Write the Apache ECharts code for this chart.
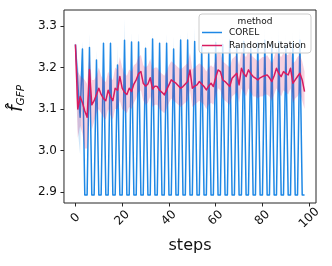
<!DOCTYPE html>
<html><head><meta charset="utf-8">
<script src="https://cdn.jsdelivr.net/npm/echarts@6/dist/echarts.min.js"></script>
<style>html,body{margin:0;padding:0;background:#fff}#c{width:332px;height:266px}</style>
</head><body><div id="c"></div>
<script>
const steps = [0,1,2,3,4,5,6,7,8,9,10,11,12,13,14,15,16,17,18,19,20,21,22,23,24,25,26,27,28,29,30,31,32,33,34,35,36,37,38,39,40,41,42,43,44,45,46,47,48,49,50,51,52,53,54,55,56,57,58,59,60,61,62,63,64,65,66,67,68,69,70,71,72,73,74,75,76,77,78,79,80,81,82,83,84,85,86,87,88,89,90,91,92,93,94,95,96,97,98];
const xTicks = [0,20,40,60,80,100];
const yTicks = [2.9,3.0,3.1,3.2,3.3];

const corel = [3.255,3.16,3.08,
3.244,2.893,2.893, 3.248,2.893,2.893, 3.218,2.893,2.893, 3.258,2.893,2.893,
3.258,2.893,2.893, 3.206,2.893,2.893, 3.265,2.893,2.893, 3.261,2.893,2.893,
3.261,2.893,2.893, 3.246,2.893,2.893, 3.268,2.893,2.893, 3.258,2.893,2.893,
3.258,2.893,2.893, 3.244,2.893,2.893, 3.266,2.893,2.893, 3.266,2.893,2.893,
3.262,2.893,2.893, 3.25,2.893,2.893, 3.236,2.893,2.893, 3.26,2.893,2.893,
3.255,2.893,2.893, 3.265,2.893,2.893, 3.25,2.893,2.893, 3.262,2.893,2.893,
3.245,2.893,2.893, 3.258,2.893,2.893, 3.265,2.893,2.893, 3.255,2.893,2.893,
3.262,2.893,2.893, 3.25,2.893,2.893, 3.26,2.893,2.893, 3.265,2.893,2.893];
const corelHi = [3.258,3.21,3.16,
3.262,2.893,2.893, 3.282,2.893,2.893, 3.242,2.893,2.893, 3.262,2.893,2.893,
3.262,2.893,2.893, 3.252,2.893,2.893, 3.318,2.893,2.893, 3.284,2.893,2.893,
3.284,2.893,2.893, 3.264,2.893,2.893, 3.285,2.893,2.893, 3.27,2.893,2.893,
3.282,2.893,2.893, 3.274,2.893,2.893, 3.282,2.893,2.893, 3.29,2.893,2.893,
3.298,2.893,2.893, 3.265,2.893,2.893, 3.26,2.893,2.893, 3.285,2.893,2.893,
3.28,2.893,2.893, 3.29,2.893,2.893, 3.27,2.893,2.893, 3.29,2.893,2.893,
3.28,2.893,2.893, 3.295,2.893,2.893, 3.3,2.893,2.893, 3.28,2.893,2.893,
3.3,2.893,2.893, 3.285,2.893,2.893, 3.29,2.893,2.893, 3.3,2.893,2.893];
const corelLo = [3.25,3.05,2.99,
3.225,2.893,2.893, 3.22,2.893,2.893, 3.19,2.893,2.893, 3.24,2.893,2.893,
3.24,2.893,2.893, 3.17,2.893,2.893, 3.23,2.893,2.893, 3.24,2.893,2.893,
3.24,2.893,2.893, 3.225,2.893,2.893, 3.25,2.893,2.893, 3.24,2.893,2.893,
3.235,2.893,2.893, 3.215,2.893,2.893, 3.25,2.893,2.893, 3.245,2.893,2.893,
3.23,2.893,2.893, 3.23,2.893,2.893, 3.21,2.893,2.893, 3.235,2.893,2.893,
3.23,2.893,2.893, 3.24,2.893,2.893, 3.23,2.893,2.893, 3.235,2.893,2.893,
3.215,2.893,2.893, 3.225,2.893,2.893, 3.235,2.893,2.893, 3.23,2.893,2.893,
3.235,2.893,2.893, 3.22,2.893,2.893, 3.235,2.893,2.893, 3.24,2.893,2.893];

const randMut = [3.255,3.10,3.13,3.115,3.095,3.08,3.195,3.11,3.12,3.135,
3.15,3.135,3.125,3.12,3.145,3.13,3.12,3.15,3.145,3.178,
3.15,3.14,3.135,3.15,3.142,3.16,3.17,3.185,3.19,3.162,
3.155,3.16,3.175,3.148,3.155,3.154,3.145,3.14,3.134,3.146,
3.158,3.17,3.166,3.162,3.156,3.15,3.154,3.16,3.166,3.194,
3.15,3.155,3.158,3.166,3.16,3.154,3.146,3.155,3.162,3.154,
3.175,3.194,3.19,3.17,3.166,3.16,3.154,3.174,3.18,3.186,
3.158,3.198,3.185,3.178,3.194,3.185,3.178,3.174,3.17,3.175,
3.178,3.18,3.182,3.175,3.166,3.18,3.198,3.185,3.178,3.19,
3.185,3.182,3.198,3.162,3.17,3.178,3.186,3.17,3.142];
const randMutLo = [3.2,3.03,3.06,3.04,3.005,3.005,3.10,3.05,3.07,3.09,
3.10,3.09,3.08,3.075,3.10,3.085,3.075,3.10,3.10,3.12,
3.10,3.095,3.09,3.105,3.10,3.115,3.125,3.14,3.145,3.12,
3.11,3.115,3.13,3.105,3.11,3.11,3.10,3.095,3.09,3.10,
3.115,3.125,3.12,3.115,3.11,3.105,3.11,3.115,3.12,3.145,
3.105,3.11,3.115,3.12,3.115,3.11,3.10,3.11,3.115,3.11,
3.13,3.15,3.145,3.125,3.12,3.115,3.11,3.13,3.135,3.14,
3.115,3.15,3.14,3.13,3.15,3.14,3.13,3.13,3.125,3.13,
3.13,3.135,3.135,3.13,3.12,3.135,3.15,3.14,3.13,3.145,
3.14,3.135,3.15,3.115,3.125,3.13,3.14,3.12,3.10];
const randMutHi = [3.262,3.19,3.18,3.175,3.17,3.16,3.23,3.17,3.17,3.18,
3.20,3.18,3.17,3.165,3.19,3.175,3.17,3.20,3.195,3.225,
3.20,3.185,3.18,3.195,3.19,3.205,3.21,3.225,3.23,3.205,
3.20,3.205,3.22,3.195,3.20,3.20,3.19,3.185,3.18,3.19,
3.205,3.215,3.21,3.205,3.20,3.195,3.20,3.205,3.21,3.235,
3.195,3.20,3.205,3.21,3.205,3.20,3.19,3.20,3.205,3.20,
3.22,3.24,3.235,3.215,3.21,3.205,3.20,3.22,3.225,3.23,
3.205,3.24,3.23,3.225,3.24,3.23,3.225,3.22,3.215,3.22,
3.225,3.225,3.23,3.22,3.21,3.225,3.245,3.23,3.225,3.235,
3.23,3.23,3.245,3.21,3.215,3.225,3.23,3.215,3.19];

const BLUE = '#1e88e5', PINK = '#d81b60';
const FONT = 'DejaVu Sans';

function band(lo, hi, fill, z) {
  return {
    type: 'custom', name: 'band' + z, z: z, silent: true, clip: true,
    data: [[steps[0], hi[0]]], encode: {x: 0, y: 1},
    renderItem: function (params, api) {
      const pts = [];
      for (let i = 0; i < steps.length; i++) pts.push(api.coord([steps[i], hi[i]]));
      for (let i = steps.length - 1; i >= 0; i--) pts.push(api.coord([steps[i], lo[i]]));
      return {type: 'polygon', shape: {points: pts}, style: {fill: fill, stroke: null}};
    }
  };
}

const chart = echarts.init(document.getElementById('c'), null, {renderer: 'canvas'});
chart.setOption({
  animation: false,
  textStyle: {fontFamily: FONT},
  grid: {left: 63, right: 16, top: 10, bottom: 63, show: true, borderColor: '#262626', borderWidth: 1, backgroundColor: 'transparent'},
  xAxis: {
    type: 'value', min: -4.9, max: 102.9,
    axisLine: {show: false, onZero: false},
    splitLine: {show: false},
    axisTick: {show: true, inside: false, length: 3.5, customValues: xTicks, lineStyle: {color: '#262626', width: 1}},
    axisLabel: {customValues: xTicks, rotate: 45, align: 'center', verticalAlign: 'middle', margin: 15, fontSize: 12, color: '#111', fontFamily: FONT},
    name: 'steps', nameLocation: 'middle', nameGap: 34,
    nameTextStyle: {fontSize: 16, color: '#111', fontFamily: FONT}
  },
  yAxis: {
    type: 'value', min: 2.874, max: 3.338,
    axisLine: {show: false, onZero: false},
    splitLine: {show: false},
    axisTick: {show: true, inside: false, length: 3.5, customValues: yTicks, lineStyle: {color: '#262626', width: 1}},
    axisLabel: {customValues: yTicks, margin: 7, fontSize: 12, color: '#111', fontFamily: FONT,
      formatter: function (v) { return v.toFixed(1); }},
    name: '{f|f\u0302}{s|GFP}', nameLocation: 'middle', nameGap: 30, nameRotate: 90,
    nameTextStyle: {
      color: '#111', padding: [0, 0, 0, 16],
      rich: {
        f: {fontSize: 19, fontStyle: 'italic', fontFamily: FONT, color: '#111', lineHeight: 23, verticalAlign: 'bottom'},
        s: {fontSize: 10.5, fontStyle: 'italic', fontFamily: FONT, color: '#111', lineHeight: 11, verticalAlign: 'bottom'}
      }
    }
  },
  legend: {
    data: ['COREL', 'RandomMutation'],
    orient: 'vertical', left: 199, top: 14,
    padding: [14, 5, 3, 3],
    itemWidth: 20, itemHeight: 1.5, itemGap: 4,
    icon: 'rect',
    backgroundColor: 'rgba(255,255,255,0.8)', borderColor: '#cccccc', borderWidth: 1, borderRadius: 3,
    textStyle: {fontSize: 9, color: '#111', fontFamily: FONT, padding: [0, 0, 0, 2]}
  },
  graphic: [{
    type: 'text', z: 100, silent: true,
    style: {x: 255, y: 22, text: 'method', textAlign: 'center', textVerticalAlign: 'middle', font: '9px DejaVu Sans', fill: '#111'}
  }],
  series: [
    band(corelLo, corelHi, 'rgba(30,136,229,0.22)', 1),
    {type: 'line', name: 'COREL', z: 2, symbol: 'none', color: BLUE,
     lineStyle: {color: BLUE, width: 1.5, join: 'round'},
     data: steps.map((s, i) => [s, corel[i]])},
    band(randMutLo, randMutHi, 'rgba(216,27,96,0.2)', 3),
    {type: 'line', name: 'RandomMutation', z: 4, symbol: 'none', color: PINK,
     lineStyle: {color: PINK, width: 1.5, join: 'round'},
     data: steps.map((s, i) => [s, randMut[i]])}
  ]
});
</script></body></html>
